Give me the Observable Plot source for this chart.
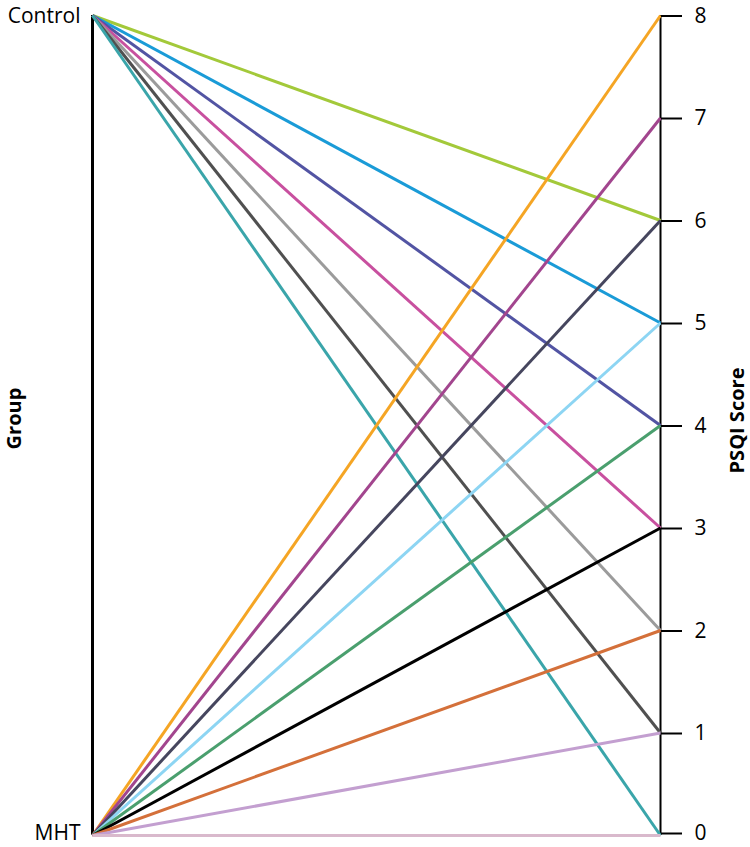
<!DOCTYPE html>
<html>
<head>
<meta charset="utf-8">
<script src="https://cdn.jsdelivr.net/npm/d3@7"></script>
<script src="https://cdn.jsdelivr.net/npm/@observablehq/plot@0.6"></script>
<style>
  html, body { margin: 0; padding: 0; background: #fff; }
  #chart svg { display: block; }
</style>
</head>
<body>
<div id="chart"></div>
<script>
// Data
const groups = ["Control", "MHT"];
const scoreTicks = [0, 1, 2, 3, 4, 5, 6, 7, 8];
const controlScores = [6, 5, 4, 3, 2, 1, 0];
const controlColors = ["#a3c93a", "#1a9bd7", "#5254a3", "#c8509f", "#9b9b9b", "#505050", "#3aa5aa"];
const mhtScores = [8, 7, 6, 5, 4, 3, 2, 1, 0];
const mhtColors = ["#f5a524", "#a2458e", "#46465e", "#8dd5f3", "#4a9f6e", "#000000", "#d4703a", "#c39fd0", "#d9b9cc"];

// group level on the score axis: Control at top, MHT at bottom
const groupLevel = {Control: d3.max(scoreTicks), MHT: d3.min(scoreTicks)};

const segments = [
  ...controlScores.map((s, i) => ({group: "Control", score: s, color: controlColors[i]})),
  ...mhtScores.map((s, i) => ({group: "MHT", score: s, color: mhtColors[i]}))
];

const font = "'Open Sans', 'Noto Sans', sans-serif";
const lowest = d3.min(scoreTicks);

const chart = Plot.plot({
  width: 750,
  height: 847,
  marginTop: 15,
  marginBottom: 12,
  marginLeft: 92,
  marginRight: 90,
  style: {fontFamily: font, fontSize: "21px", color: "#000", background: "#fff"},
  x: {domain: [0, 1], axis: null},
  y: {domain: [0, 8]},
  marks: [
    Plot.ruleX([0], {y1: groupLevel.MHT, y2: groupLevel.Control, stroke: "#000", strokeWidth: 3}),
    Plot.ruleX([1], {y1: 0, y2: 8, stroke: "#000", strokeWidth: 2}),
    Plot.link(segments, {
      x1: 0, y1: d => groupLevel[d.group],
      x2: 1, y2: "score",
      stroke: "color", strokeWidth: 3, strokeLinecap: "butt"
    }),
    // left "Group" axis labels
    Plot.axisY({
      anchor: "left", ticks: [groupLevel.Control],
      tickFormat: () => groups[0],
      tickSize: 0, tickPadding: 12, fontSize: 21, dy: 0.5,
      label: null
    }),
    Plot.axisY({
      anchor: "left", ticks: [groupLevel.MHT],
      tickFormat: () => groups[1],
      tickSize: 0, tickPadding: 12, fontSize: 21, dy: -2,
      label: null
    }),
    // right "PSQI Score" axis
    Plot.axisY({
      anchor: "right", ticks: scoreTicks.filter(t => t !== lowest), tickFormat: d3.format("d"),
      tickSize: 21, tickPadding: 13, strokeWidth: 2, fontSize: 21, dy: 0.5,
      label: null
    }),
    Plot.axisY({
      anchor: "right", ticks: [lowest], tickFormat: d3.format("d"),
      tickSize: 21, tickPadding: 13, strokeWidth: 2, fontSize: 21, dy: -2,
      label: null
    }),
    Plot.text(["Group"], {
      frameAnchor: "left", dx: -78, dy: -7, rotate: -90, text: d => d,
      textAnchor: "middle", fontWeight: "bold", fontSize: 20
    }),
    Plot.text(["PSQI Score"], {
      frameAnchor: "right", dx: 77, dy: -5, rotate: -90, text: d => d,
      textAnchor: "middle", fontWeight: "bold", fontSize: 20
    })
  ]
});

document.getElementById("chart").appendChild(chart);
</script>
</body>
</html>
